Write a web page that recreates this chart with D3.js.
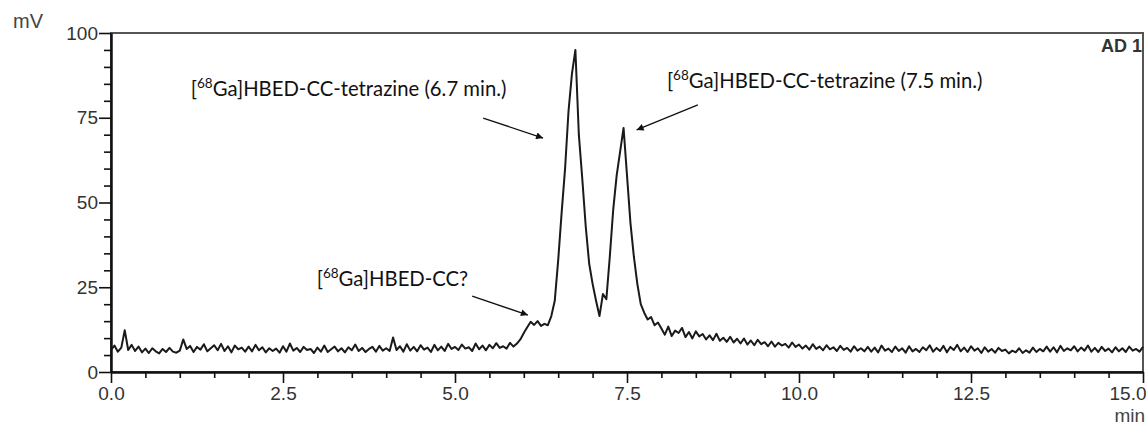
<!DOCTYPE html>
<html>
<head>
<meta charset="utf-8">
<script src="https://cdn.jsdelivr.net/npm/d3@7"></script>
<style>
  body { margin: 0; background: #fff; }
  svg { display: block; }
</style>
</head>
<body>
<svg></svg>
<script>
// Retention time axis: one reading every 0.05 min from 0.0 to 15.0
const timeStart = 0, timeStep = 0.05;

// Detector signal (mV)
const signal = [
  // 0.00 - 0.95
  6.5, 7.8, 6.0, 7.2, 12.3, 6.5, 8.0, 6.2, 7.5, 5.8, 6.9, 5.6, 7.0, 6.1, 5.5, 6.8, 5.9, 7.1, 6.0, 5.7,
  // 1.00 - 1.95
  6.3, 9.6, 6.8, 7.7, 5.9, 7.4, 6.6, 8.2, 6.1, 7.0, 7.9, 6.4, 8.3, 6.2, 7.6, 5.8, 7.8, 6.7, 7.2, 6.0,
  // 2.00 - 2.95
  7.5, 6.1, 8.0, 6.4, 7.3, 5.8, 7.0, 6.2, 6.9, 5.7, 7.6, 6.0, 8.4, 6.3, 7.1, 5.9, 7.4, 6.5, 6.8, 5.6,
  // 3.00 - 3.95
  7.2, 6.0, 7.8, 5.9, 6.7, 7.5, 6.1, 7.0, 5.8, 7.3, 6.4, 8.1, 6.2, 7.1, 5.9, 6.8, 7.4, 6.0, 7.7, 6.3,
  // 4.00 - 4.95
  7.0, 6.2, 10.2, 6.5, 7.6, 6.0, 8.2, 6.3, 7.4, 6.1, 7.9, 6.6, 7.2, 5.9, 8.0, 6.4, 7.5, 6.2, 8.3, 6.8,
  // 5.00 - 5.95
  7.4, 6.5, 8.1, 6.9, 7.3, 6.2, 8.4, 6.7, 7.8, 6.4, 8.0, 7.0, 8.5, 7.1, 7.6, 6.9, 8.6, 7.5, 8.4, 9.6,
  // 6.00 - 6.95
  11.5, 13.2, 14.8, 13.9, 15.0, 13.6, 14.2, 13.8, 16.5, 21.0, 33.0, 47.0, 60.0, 77.0, 88.0, 95.0, 70.0, 57.0, 43.0, 32.0,
  // 7.00 - 7.95
  26.0, 21.0, 16.5, 23.0, 21.5, 34.0, 48.0, 58.0, 65.0, 72.0, 58.0, 44.0, 34.0, 26.0, 20.0, 17.5, 15.5, 16.2, 13.8, 14.6,
  // 8.00 - 8.95
  12.8, 11.0, 13.4, 10.6, 12.2, 11.5, 13.0, 10.3, 11.8, 9.9, 12.0, 10.5, 11.2, 9.6, 10.8, 9.4, 11.3, 9.2, 10.1, 8.9,
  // 9.00 - 9.95
  10.4, 8.7, 9.8, 8.4, 9.9, 8.1, 9.3, 7.9, 9.5, 8.2, 8.8, 7.6, 9.0, 7.5, 8.6, 7.8, 8.3, 7.2, 8.7, 7.4,
  // 10.00 - 10.95
  8.1, 6.9, 7.8, 6.6, 8.2, 6.8, 7.5, 6.4, 7.9, 6.7, 7.3, 6.2, 7.7, 6.5, 7.1, 6.0, 7.6, 6.3, 7.0, 6.1,
  // 11.00 - 11.95
  7.4, 6.0, 7.2, 5.8, 7.8, 6.3, 6.9, 5.9, 7.5, 6.2, 7.0, 5.7, 7.6, 6.1, 6.8, 5.9, 7.3, 6.4, 7.9, 6.0,
  // 12.00 - 12.95
  7.1, 6.2, 7.7, 5.8, 7.4, 6.5, 8.0, 6.1, 7.2, 5.9, 7.6, 6.3, 7.0, 5.6, 7.3, 6.0, 6.8, 5.7, 7.1, 6.2,
  // 13.00 - 13.95
  6.6, 5.5, 6.3, 5.8, 7.0, 5.6, 6.4, 5.7, 7.2, 5.9, 6.8, 6.1, 7.5, 6.0, 7.3, 5.8, 7.7, 6.2, 7.0, 6.4,
  // 14.00 - 15.00
  7.6, 6.1, 7.2, 6.3, 7.8, 6.0, 7.1, 5.9, 7.4, 6.2, 6.9, 5.8, 7.3, 6.1, 7.0, 5.9, 7.5, 6.3, 6.8, 6.0, 7.4
];

// Tick values
const xMajorTicks = [0, 2.5, 5, 7.5, 10, 12.5, 15];
const xMinorTicks = [0.5, 1, 1.5, 2, 3, 3.5, 4, 4.5, 5.5, 6, 6.5, 7, 8, 8.5, 9, 9.5, 10.5, 11, 11.5, 12, 13, 13.5, 14, 14.5];
const yMajorTicks = [0, 25, 50, 75, 100];
const yMinorTicks = [5, 10, 15, 20, 30, 35, 40, 45, 55, 60, 65, 70, 80, 85, 90, 95];

// Peak annotations (isotope mass shown as superscript)
const annotationNames = ["[68Ga]HBED-CC-tetrazine (6.7 min.)", "[68Ga]HBED-CC-tetrazine (7.5 min.)", "[68Ga]HBED-CC?"];
const annotationMass = "68";

const data = signal.map((v, i) => ({ t: timeStart + i * timeStep, mv: v }));

// Set the dimensions and margins of the graph
const margin = {top: 33, right: 3, bottom: 53, left: 111},
    width = 1146 - margin.left - margin.right,
    height = 425 - margin.top - margin.bottom;

const svg = d3.select("svg")
  .attr("width", width + margin.left + margin.right)
  .attr("height", height + margin.top + margin.bottom)
  .append("g")
  .attr("transform", `translate(${margin.left},${margin.top})`);

const x = d3.scaleLinear().domain([0, 15]).range([0, width]);
const y = d3.scaleLinear().domain([0, 100]).range([height, 0]);

const axisFont = "'Liberation Sans', Arial, sans-serif";

// Frame
svg.append("rect")
  .attr("x", 0).attr("y", 0)
  .attr("width", width).attr("height", height)
  .attr("fill", "none")
  .attr("stroke", "#555")
  .attr("stroke-width", 2);

// Minor ticks
svg.append("g")
  .attr("transform", `translate(0,${height})`)
  .call(d3.axisBottom(x).tickValues(xMinorTicks).tickFormat("").tickSize(6).tickSizeOuter(0));
svg.append("g")
  .call(d3.axisLeft(y).tickValues(yMinorTicks).tickFormat("").tickSize(7).tickSizeOuter(0));

// Major ticks + labels
const xAxis = svg.append("g")
  .attr("transform", `translate(0,${height})`)
  .call(d3.axisBottom(x).tickValues(xMajorTicks).tickFormat(d3.format(".1f")).tickSize(11).tickSizeOuter(0).tickPadding(4));
const yAxis = svg.append("g")
  .call(d3.axisLeft(y).tickValues(yMajorTicks).tickSize(12).tickSizeOuter(0).tickPadding(1));

svg.selectAll(".domain").attr("stroke", "#111").attr("stroke-width", 2);
svg.selectAll(".tick line").attr("stroke", "#111").attr("stroke-width", 1.6);
svg.selectAll(".tick text")
  .style("font-family", axisFont)
  .style("font-size", "19px")
  .attr("fill", "#333");

// last x label is pulled inside the page
xAxis.selectAll(".tick text")
  .filter(d => d === 15)
  .attr("text-anchor", "end")
  .attr("x", 3);

// Unit labels
svg.append("text")
  .attr("x", -98).attr("y", -5)
  .style("font-family", axisFont).style("font-size", "20px")
  .attr("fill", "#444")
  .text("mV");
svg.append("text")
  .attr("x", width + 2).attr("y", height + 50)
  .attr("text-anchor", "end")
  .style("font-family", axisFont).style("font-size", "19px")
  .attr("fill", "#444")
  .text("min");
svg.append("text")
  .attr("x", width - 1).attr("y", 19)
  .attr("text-anchor", "end")
  .style("font-family", axisFont).style("font-size", "18px").style("font-weight", "bold")
  .attr("fill", "#333")
  .text("AD 1");

// Trace
svg.append("path")
  .datum(data)
  .attr("fill", "none")
  .attr("stroke", "#1a1a1a")
  .attr("stroke-width", 2)
  .attr("stroke-linejoin", "round")
  .attr("d", d3.line().x(d => x(d.t)).y(d => y(d.mv)));

// Annotations: label anchor and arrow in data units (min, mV)
const annotationLayout = [
  { tx: 1.16, ty: 81.4, from: [5.41, 74.9], to: [6.28, 69.0] },
  { tx: 8.08, ty: 83.9, from: [8.53, 78.8], to: [7.64, 71.4] },
  { tx: 2.99, ty: 25.4, from: [5.25, 22.4], to: [6.06, 16.8] }
];

svg.append("defs").append("marker")
  .attr("id", "arrow")
  .attr("viewBox", "0 0 10 10")
  .attr("refX", 10).attr("refY", 5)
  .attr("markerWidth", 10).attr("markerHeight", 7)
  .attr("markerUnits", "userSpaceOnUse")
  .attr("orient", "auto")
  .append("path")
  .attr("d", "M0,0 L10,5 L0,10 z")
  .attr("fill", "#111");

annotationLayout.forEach((a, i) => {
  const label = annotationNames[i];
  const rest = label.slice(1 + annotationMass.length);
  const t = svg.append("text")
    .attr("x", x(a.tx)).attr("y", y(a.ty))
    .style("font-family", "Lato, 'Open Sans', sans-serif")
    .style("font-size", "20.3px")
    .attr("fill", "#111");
  t.append("tspan").text("[");
  t.append("tspan").attr("dy", -8).style("font-size", "13.5px").text(annotationMass);
  t.append("tspan").attr("dy", 8).text(rest);

  svg.append("line")
    .attr("x1", x(a.from[0])).attr("y1", y(a.from[1]))
    .attr("x2", x(a.to[0])).attr("y2", y(a.to[1]))
    .attr("stroke", "#111")
    .attr("stroke-width", 1.3)
    .attr("marker-end", "url(#arrow)");
});
</script>
</body>
</html>
